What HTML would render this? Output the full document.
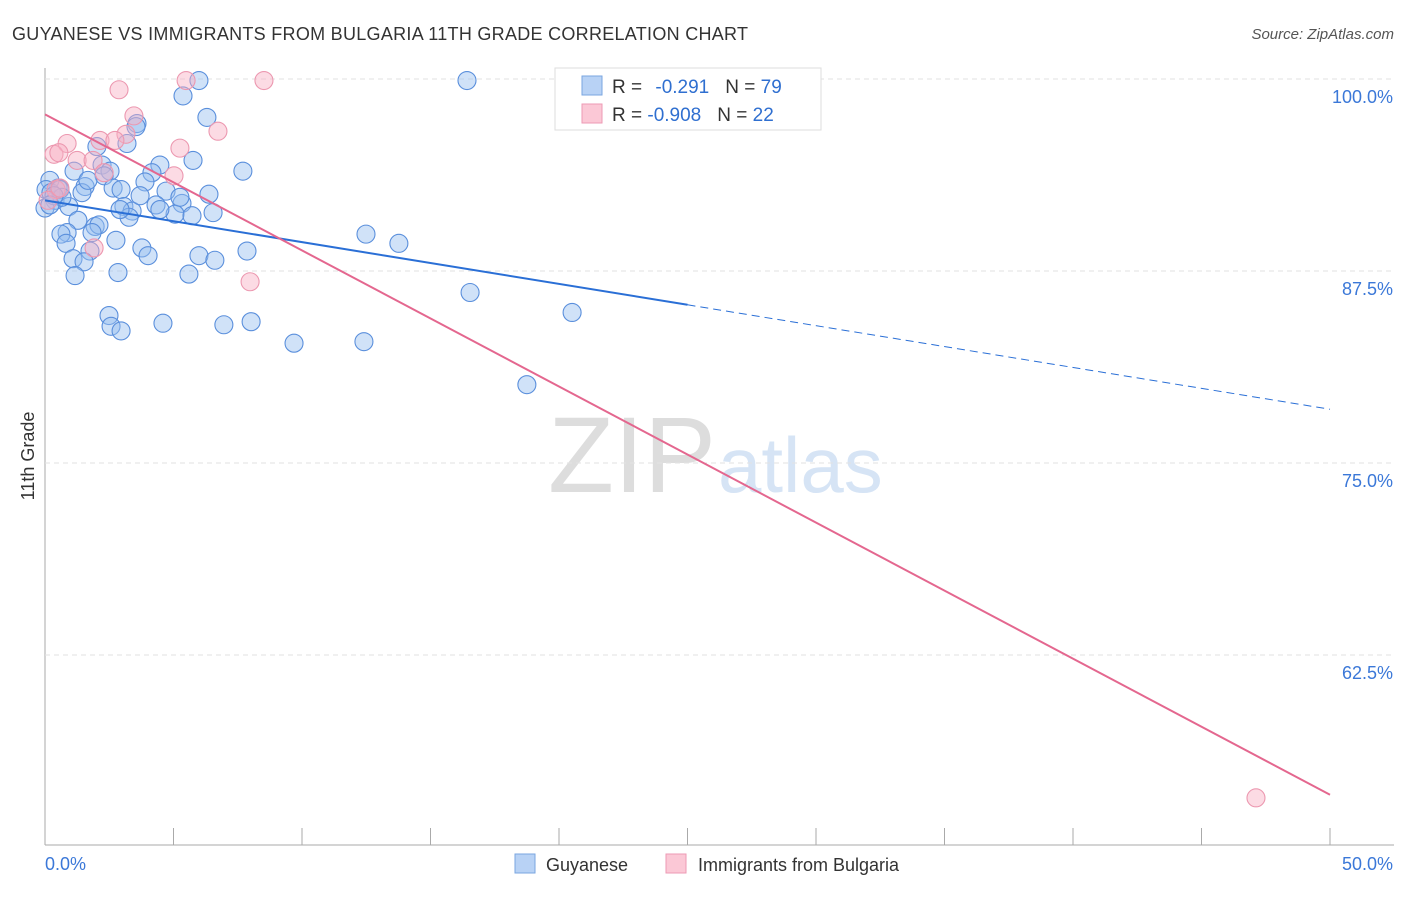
<!DOCTYPE html>
<html><head><meta charset="utf-8"><style>
body{margin:0;background:#fff;font-family:"Liberation Sans",sans-serif}
svg text{font-family:"Liberation Sans",sans-serif}
</style></head><body>
<svg id="c" width="1406" height="892">
<text x="12" y="40" font-size="18" fill="#333" textLength="736">GUYANESE VS IMMIGRANTS FROM BULGARIA 11TH GRADE CORRELATION CHART</text>
<text x="1394" y="39" font-size="15" fill="#555" font-style="italic" text-anchor="end">Source: ZipAtlas.com</text>
<text x="716" y="492" font-size="108" fill="#ddd" font-family="Liberation Serif" text-anchor="end">ZIP</text>
<text x="718" y="492" font-size="78" fill="#d6e4f5">atlas</text>
<text transform="translate(34,456) rotate(-90)" font-size="18" fill="#333" text-anchor="middle">11th Grade</text>
<g id="grid"></g><g id="pts"></g><g id="lines"></g>
<g>
<rect x="555" y="68" width="266" height="62" fill="#fff" stroke="#ddd"/>
<rect x="582" y="76" width="20" height="19" fill="#b8d2f5" stroke="#7aa6e0"/>
<rect x="582" y="104" width="20" height="19" fill="#fbc8d6" stroke="#ee9ab4"/>
<text x="612" y="93" font-size="19" fill="#333">R = <tspan fill="#2f6fd0" dx="8">-0.291</tspan><tspan fill="#333" dx="16">N = </tspan><tspan fill="#2f6fd0">79</tspan></text>
<text x="612" y="121" font-size="19" fill="#333">R = <tspan fill="#2f6fd0">-0.908</tspan><tspan fill="#333" dx="16">N = </tspan><tspan fill="#2f6fd0"> 22</tspan></text>
</g>
<g>
<rect x="515" y="854" width="20" height="19" fill="#b8d2f5" stroke="#7aa6e0"/>
<text x="546" y="871" font-size="18" fill="#333">Guyanese</text>
<rect x="666" y="854" width="20" height="19" fill="#fbc8d6" stroke="#ee9ab4"/>
<text x="698" y="871" font-size="18" fill="#333">Immigrants from Bulgaria</text>
</g>
</svg>
<script>
const blueX=[5.99,16.42,5.37,6.30,3.58,3.54,3.19,2.02,4.47,5.76,2.22,7.70,1.13,2.53,4.16,2.30,3.89,1.56,2.65,2.96,4.71,6.38,1.44,0.51,0.19,0.04,0.39,0.93,4.32,5.33,3.07,3.39,5.06,5.72,6.54,3.27,1.28,1.95,2.10,0.86,0.62,1.83,2.76,12.49,13.77,0.82,3.77,7.86,4.01,5.99,1.09,1.75,1.52,6.61,1.17,2.84,5.60,16.54,2.49,4.59,6.96,8.02,2.57,2.96,9.69,12.41,20.51,18.75,0,0.23,0.58,0.66,1.67,3.70,5.25,0.35,2.92,4.47,0.19];
const blueY=[99.9,99.9,98.9,97.5,97.1,96.9,95.8,95.6,94.4,94.7,94.4,94.0,94.0,94.0,93.9,93.7,93.3,93.0,92.9,92.8,92.7,92.5,92.6,92.9,93.4,92.8,92.1,91.7,91.8,91.9,91.7,91.4,91.2,91.1,91.3,91.0,90.8,90.4,90.5,90.0,89.9,90.0,89.5,89.9,89.3,89.3,89.0,88.8,88.5,88.5,88.3,88.8,88.1,88.2,87.2,87.4,87.3,86.1,84.6,84.1,84.0,84.2,83.9,83.6,82.8,82.9,84.8,80.1,91.6,92.6,92.8,92.3,93.4,92.4,92.3,92.4,91.5,91.5,91.8];
const pinkX=[5.49,8.52,2.88,3.46,6.73,3.15,2.14,0.86,2.72,0.35,0.54,1.25,1.87,5.25,5.02,2.30,0.43,0.12,7.98,1.91,47.12,0.58];
const pinkY=[99.9,99.9,99.3,97.6,96.6,96.4,96.0,95.8,96.0,95.1,95.2,94.7,94.7,95.5,93.7,93.9,92.8,92.1,86.8,89.0,53.2,92.9];
const blueTrend=[92.1,85.3,78.5]; // at x=0,25,50
const pinkTrend=[97.7,53.4]; // at x=0,50
const yTicks=[100,87.5,75,62.5];
const xTickLabels=["0.0%","50.0%"];
const X=v=>45+v/50*1285, Y=v=>79+(100-v)/12.5*192;
const NS="http://www.w3.org/2000/svg";
function mk(p,t,a){const e=document.createElementNS(NS,t);for(const k in a)e.setAttribute(k,a[k]);p.appendChild(e);return e;}
const g=document.getElementById('grid');
let ax=mk(g,'line',{x1:45,y1:68,x2:45,y2:845,stroke:'#aaa'});


let bx=mk(g,'line',{x1:45,y1:845,x2:1394,y2:845,stroke:'#aaa'});


yTicks.forEach(t=>{
 let l=mk(g,'line',{x1:45,x2:1394,y1:Y(t),y2:Y(t),stroke:'#e2e2e2','stroke-dasharray':'5,4'});
 
 
 let tx=mk(g,'text',{x:1393,y:Y(t)+24,'font-size':18,fill:'#3b78d8','text-anchor':'end'});
 tx.textContent=t.toFixed(1)+'%';
 
 
});
for(let i=0;i<=10;i++){
 let l=mk(g,'line',{x1:X(i*5),x2:X(i*5),y1:828,y2:845,stroke:'#aaa'});
 
 
}
[[0,'start',45],[50,'end',1393]].forEach((d,i)=>{
 let tx=mk(g,'text',{x:d[2],y:870,'font-size':18,fill:'#3b78d8','text-anchor':d[1]});
 tx.textContent=xTickLabels[i];
 
 
});
const p=document.getElementById('pts');
blueX.forEach((x,i)=>{
 let c=mk(p,'circle',{cx:X(x),cy:Y(blueY[i]),r:9,fill:'rgba(150,190,240,0.45)',stroke:'#5a8fdc','stroke-width':1.1});
 
 
});
pinkX.forEach((x,i)=>{
 let c=mk(p,'circle',{cx:X(x),cy:Y(pinkY[i]),r:9,fill:'rgba(248,175,195,0.45)',stroke:'#ec98b0','stroke-width':1.1});
 
 
});
const L=document.getElementById('lines');
let b1=mk(L,'line',{x1:X(0),y1:Y(blueTrend[0]),x2:X(25),y2:Y(blueTrend[1]),stroke:'#2a6fd6','stroke-width':2});


let b2=mk(L,'line',{x1:X(25),y1:Y(blueTrend[1]),x2:X(50),y2:Y(blueTrend[2]),stroke:'#2a6fd6','stroke-width':1,'stroke-dasharray':'8,5'});


let pl=mk(L,'line',{x1:X(0),y1:Y(pinkTrend[0]),x2:X(50),y2:Y(pinkTrend[1]),stroke:'#e4678f','stroke-width':2});


</script>
</body></html>
